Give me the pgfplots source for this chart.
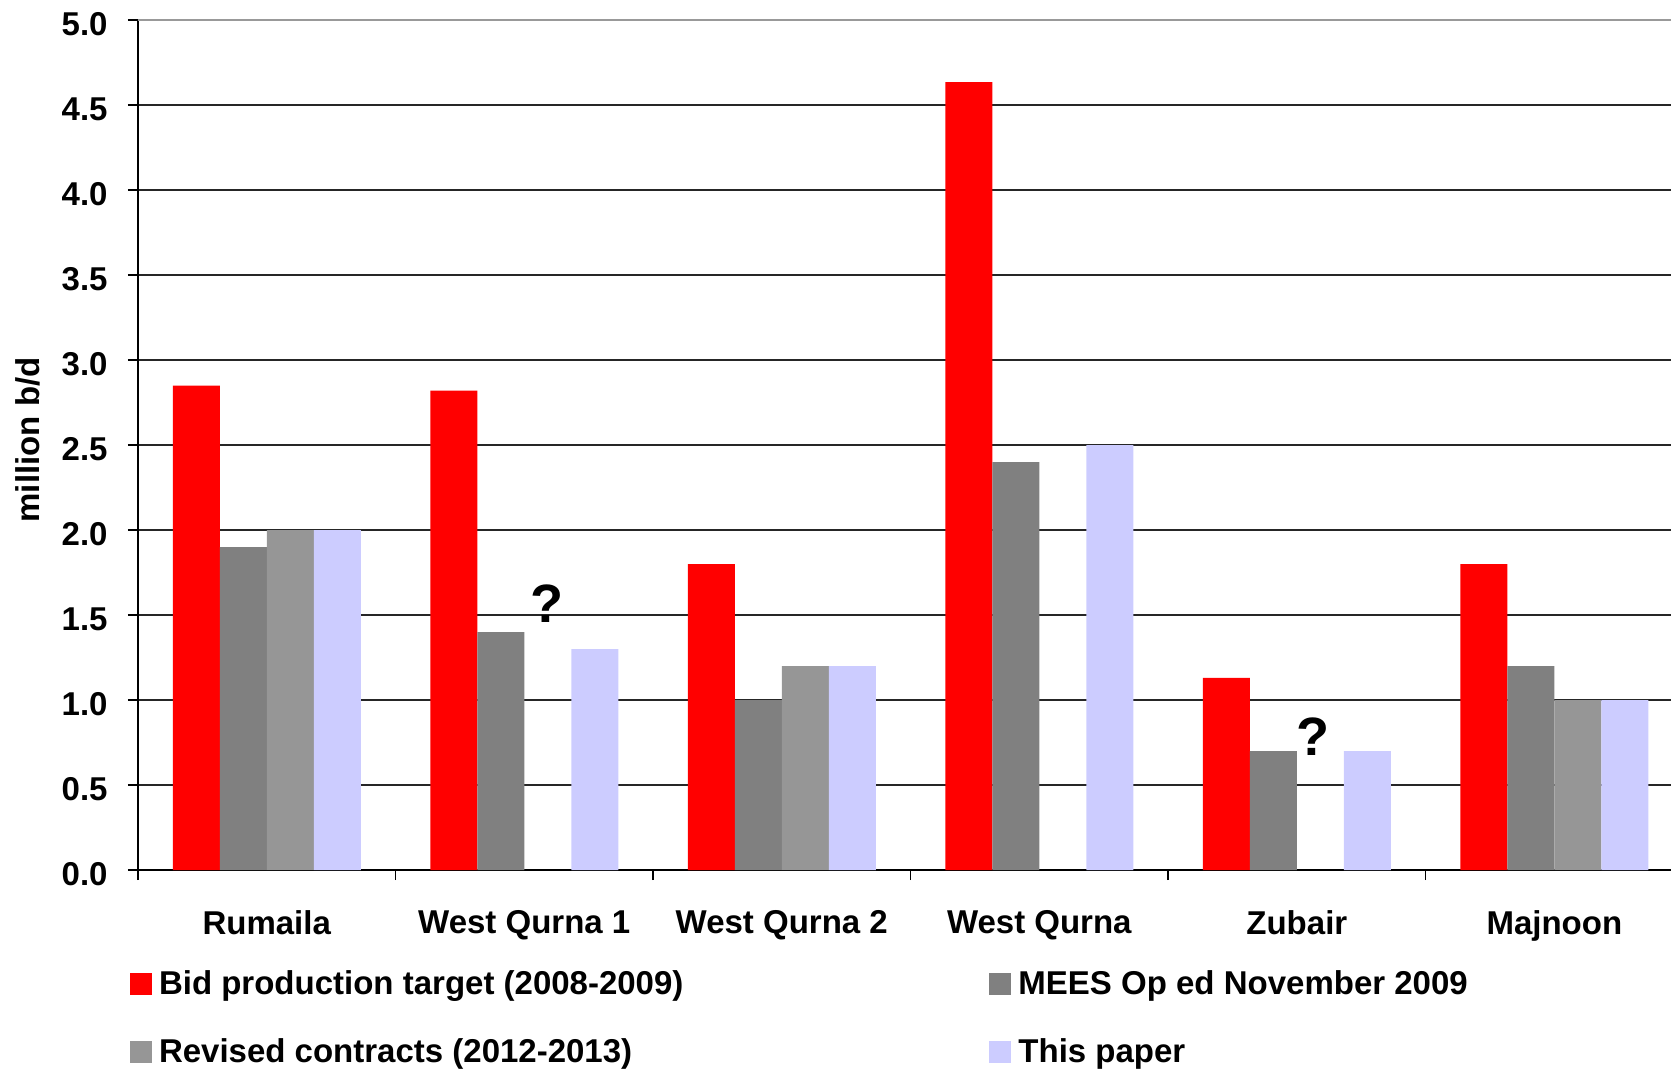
\documentclass[border=0pt]{standalone}
\usepackage{fontspec}
\setmainfont{Liberation Sans}
\usepackage{pgfplots}
\pgfplotsset{compat=1.18}
\definecolor{cRed}{HTML}{FF0000}
\definecolor{cMees}{HTML}{808080}
\definecolor{cRev}{HTML}{969696}
\definecolor{cPaper}{HTML}{CCCCFF}
\newcommand{\lbl}{\bfseries\fontsize{16.5}{19.8}\selectfont}
\begin{document}
\begin{tikzpicture}
\begin{axis}[
  scale only axis,
  width=766.5pt, height=425pt,
  xmin=-0.5, xmax=5.453,
  ymin=0, ymax=5,
  axis x line*=bottom, axis y line*=left,
  x axis line style={-, line width=1pt, black},
  y axis line style={-, line width=0.8pt, black},
  ytick={0,0.5,1,1.5,2,2.5,3,3.5,4,4.5},
  extra y ticks={5},
  extra y tick style={grid style={color=black!40, line width=0.8pt}},
  ymajorgrids,
  grid style={color=black!85, line width=0.8pt},
  tick align=outside,
  major tick length=5pt, minor tick length=5pt,
  tick style={black, line width=0.7pt},
  xtick={0,1,2,3,4,5},
  xticklabels={Rumaila, West Qurna 1, West Qurna 2, West Qurna, Zubair, Majnoon},
  major x tick style={draw=none},
  minor xtick={-0.5,0.5,1.5,2.5,3.5,4.5},
  /pgf/number format/.cd, fixed, fixed zerofill, precision=1, assume math mode=true,
  /pgfplots/.cd,
  yticklabel style={font=\lbl, anchor=east, inner sep=0pt, xshift=-10pt, yshift=-2pt},
  xticklabel style={font=\lbl, anchor=north, inner sep=0pt, yshift=-15pt},
  ylabel={million b/d},
  ylabel style={font=\lbl, at={(axis description cs:-0.0718,0.506)}, anchor=center},
  legend columns=2,
  legend style={draw=none, fill=none, inner sep=0pt, outer sep=0pt,
    at={(-0.0052,-0.114)}, anchor=north west, font=\lbl,
    cells={anchor=west}, row sep=16.5pt,
    /tikz/every odd column/.append style={column sep=1.5pt},
    /tikz/every even column/.append style={column sep=151pt}},
  legend image code/.code={\fill[#1] (0pt,-5.5pt) rectangle (11pt,5.5pt);},
]
\addplot[ybar, bar width=0.1825, bar shift=-0.27375, fill=cRed, draw=none]
  coordinates {(0,2.85) (1,2.82) (2,1.80) (3,4.635) (4,1.13) (5,1.80)};
\addlegendentry{Bid production target (2008-2009)}
\addplot[ybar, bar width=0.1825, bar shift=-0.09125, fill=cMees, draw=none]
  coordinates {(0,1.90) (1,1.40) (2,1.00) (3,2.40) (4,0.70) (5,1.20)};
\addlegendentry{MEES Op ed November 2009}
\addplot[ybar, bar width=0.1825, bar shift=0.09125, fill=cRev, draw=none]
  coordinates {(0,2.00) (2,1.20) (5,1.00)};
\addlegendentry{Revised contracts (2012-2013)}
\addplot[ybar, bar width=0.1825, bar shift=0.27375, fill=cPaper, draw=none]
  coordinates {(0,2.00) (1,1.30) (2,1.20) (3,2.50) (4,0.70) (5,1.00)};
\addlegendentry{This paper}
\node[font=\bfseries\fontsize{27}{30}\selectfont, anchor=base, inner sep=0pt] at (axis cs:1.088,1.453) {?};
\node[font=\bfseries\fontsize{27}{30}\selectfont, anchor=base, inner sep=0pt] at (axis cs:4.063,0.676) {?};
\end{axis}
\pgfresetboundingbox
\path[use as bounding box] (-69pt,-100.5pt) rectangle (766.5pt,435pt);
\end{tikzpicture}
\end{document}
